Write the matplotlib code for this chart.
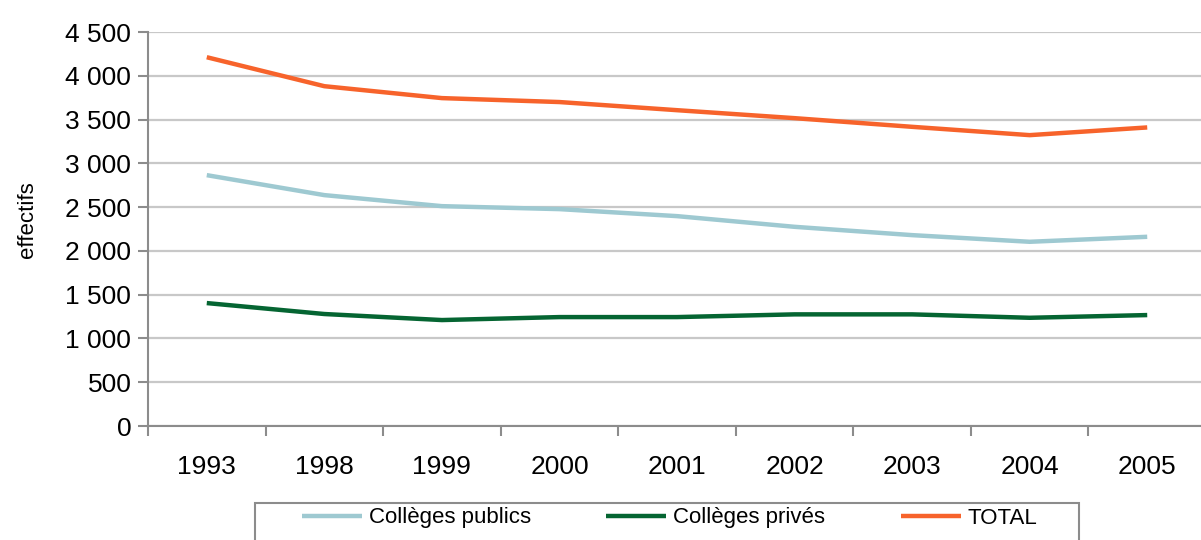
import matplotlib
matplotlib.use("Agg")
import matplotlib.pyplot as plt
from matplotlib.patches import Rectangle
from matplotlib.ticker import FuncFormatter

plt.rcParams['font.family'] = ['Liberation Sans', 'DejaVu Sans']

annees = ['1993', '1998', '1999', '2000', '2001', '2002', '2003', '2004', '2005']
colleges_publics = [2865, 2637, 2511, 2477, 2397, 2275, 2180, 2104, 2161]
colleges_prives = [1404, 1279, 1210, 1244, 1244, 1275, 1275, 1236, 1267]
total = [4212, 3881, 3745, 3700, 3607, 3516, 3417, 3322, 3410]

series = [
    ('Collèges publics', colleges_publics, '#9ec9d1'),
    ('Collèges privés', colleges_prives, '#056532'),
    ('TOTAL', total, '#f7632b'),
]

W, H = 1201, 540
fig = plt.figure(figsize=(W / 100, H / 100), dpi=100)
ax = fig.add_axes([148 / W, 1 - 426 / H, 1058 / W, 394 / H])

x = list(range(len(annees)))
for label, vals, col in series:
    ax.plot(x, vals, color=col, lw=3.2, label=label, solid_capstyle='butt')

ax.set_xlim(-0.5, len(annees) - 0.5)
ax.set_ylim(0, 4500)
ax.set_yticks(range(0, 4501, 500))
ax.yaxis.set_major_formatter(FuncFormatter(lambda v, p: f"{int(v):,}".replace(',', ' ')))
ax.set_xticks(x)
ax.set_xticklabels(annees)
ax.set_xticks([i - 0.5 for i in range(len(annees) + 1)], minor=True)

ax.grid(axis='y', color='#c8c8c8', lw=1.6)
ax.set_axisbelow(True)
for s in ['top', 'right']:
    ax.spines[s].set_visible(False)
for s in ['left', 'bottom']:
    ax.spines[s].set_color('#8c8c8c')
    ax.spines[s].set_linewidth(1.5)

ax.tick_params(axis='y', labelsize=19, length=7, width=1.5, color='#8c8c8c', pad=5)
ax.tick_params(axis='x', which='major', length=0, labelsize=19, pad=21)
ax.tick_params(axis='x', which='minor', length=7, width=1.5, color='#8c8c8c')

ax.set_ylabel('effectifs', fontsize=16)
ax.yaxis.set_label_coords((38 - 148) / 1058, (426 - 220) / 394)

# cadre de la légende (coupé par le bas de l'image)
fig.patches.append(Rectangle((255 / W, -0.05), (1079 - 255) / W, 0.05 + 1 - 503 / H,
                             transform=fig.transFigure, fill=False,
                             edgecolor='#8c8c8c', lw=1.5))

leg = fig.legend(loc='center left', bbox_to_anchor=(302 / W, 1 - 518 / H),
                 ncol=3, fontsize=16, frameon=False,
                 handlelength=2.7, handletextpad=0.3, borderpad=0,
                 borderaxespad=0, columnspacing=3.4)
for h in leg.get_lines():
    h.set_linewidth(3.2)

fig.savefig('out.png', dpi=100)
